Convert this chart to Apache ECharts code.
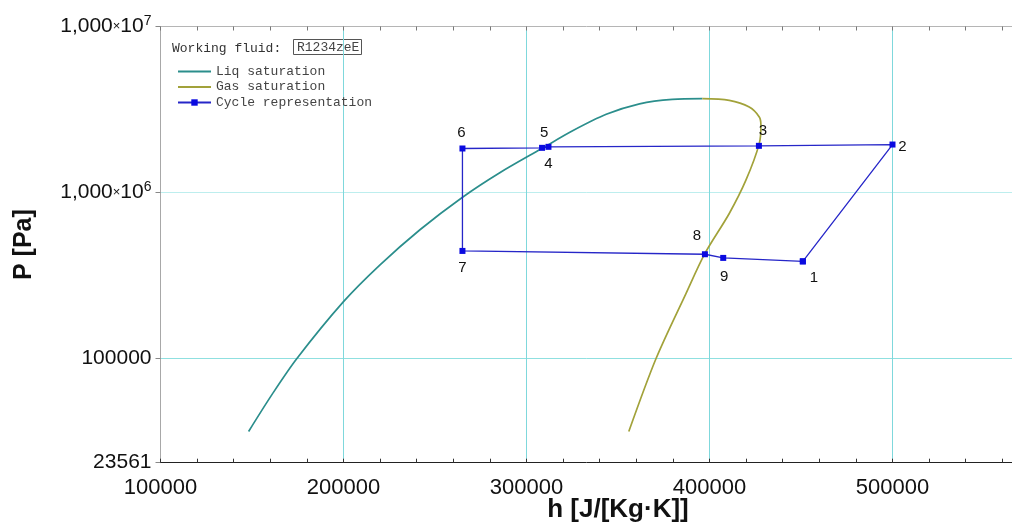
<!DOCTYPE html>
<html>
<head>
<meta charset="utf-8">
<title>P-h diagram</title>
<script src="https://cdn.jsdelivr.net/npm/echarts@6/dist/echarts.min.js"></script>
<style>
  html, body { margin: 0; padding: 0; background: #ffffff; overflow: hidden; }
  #chart { width: 1012px; height: 522px; }
</style>
</head>
<body>
<div id="chart"></div>
<script>
// Saturation dome of the working fluid (h in J/kg, P in Pa)
const liqH = [148150, 161070, 174540, 200000, 219970, 241780, 264680, 285400, 308300, 325200, 343580, 361750, 379720, 396080];
const liqP = [36350, 61000, 100000, 219900, 366400, 596600, 930500, 1315000, 1839000, 2353000, 2957000, 3420000, 3639000, 3673000];

const gasH = [396080, 410800, 421700, 427200, 428100, 427200, 419900, 410800, 397300, 387200, 370800, 355900];
const gasP = [3673000, 3589000, 3271000, 2849000, 2539000, 1970000, 1186000, 747500, 425600, 247000, 100000, 36350];

// Cycle states 1..9, closed back to state 1
const cycleNames = ['1', '2', '3', '4', '5', '6', '7', '8', '9', ''];
const cycleH = [451000, 500000, 427000, 312000, 308500, 265000, 265000, 397500, 407500, 451000];
const cycleP = [384700, 1945000, 1910000, 1884000, 1858000, 1841000, 444600, 424600, 403600, 384700];

// Axis ticks
const xMin = 100000, xMax = 600000, xStep = 100000, xMinorSplit = 5, xLastLabel = 500000;
const yTickValues = [23561, 100000, 1000000, 10000000];
const yTickText = ['23561', '100000', '1,000×10^6', '1,000×10^7'];

const fluidName = 'R1234zeE';

// Label offsets (px) of the state numbers relative to each marker
const stateLabelOffset = [[11, 16], [10, 2], [4, -15], [0, 17], [2, -15], [-1, -16], [0, 17], [-8, -18], [1, 19], [0, 0]];

const zip = (a, b) => a.map((v, i) => [v, b[i]]);

const sans = 'Liberation Sans';
const mono = 'Liberation Mono';

function yLabel(v) {
  const lv = Math.log10(v);
  let best = 0;
  for (let i = 1; i < yTickValues.length; i++) {
    if (Math.abs(lv - Math.log10(yTickValues[i])) < Math.abs(lv - Math.log10(yTickValues[best]))) best = i;
  }
  const t = yTickText[best];
  const k = t.indexOf('×');
  if (k < 0) return '{m|' + t + '}';
  return '{m|' + t.slice(0, k) + '}{x|×}{m|10}{s|' + t.slice(t.indexOf('^') + 1) + '}';
}

const chart = echarts.init(document.getElementById('chart'), null, { renderer: 'canvas' });

chart.setOption({
  animation: false,
  backgroundColor: '#ffffff',
  // 183 px per 100000 J/kg, 166 px per decade; the h axis runs on past the right edge
  grid: {
    left: 160.5, top: 26.5, width: 915, height: 436.2,
    containLabel: false,
    outerBoundsMode: 'none'
  },
  legend: {
    orient: 'vertical',
    left: 177,
    top: 65,
    itemWidth: 33,
    itemHeight: 8,
    itemGap: 2.5,
    padding: 0,
    textStyle: { fontFamily: mono, fontSize: 13, lineHeight: 13, color: '#444' },
    data: [
      { name: 'Liq saturation', itemStyle: { opacity: 0 } },
      { name: 'Gas saturation', itemStyle: { opacity: 0 } },
      { name: 'Cycle representation' }
    ]
  },
  graphic: [
    {
      type: 'text', left: 172, top: 42,
      style: { text: 'Working fluid:', font: '13px "Liberation Mono"', fill: '#333' }
    },
    {
      type: 'rect', shape: { x: 293.5, y: 39.5, width: 68, height: 15 },
      style: { fill: '#ffffff', stroke: '#555', lineWidth: 1 }
    },
    {
      type: 'text', left: 297, top: 41,
      style: { text: fluidName, font: '13px "Liberation Mono"', fill: '#444' }
    }
  ],
  xAxis: [
    {
      type: 'value',
      position: 'bottom',
      min: xMin, max: xMax, interval: xStep,
      name: 'h [J/[Kg·K]]',
      nameLocation: 'middle',
      nameGap: 34,
      nameMoveOverlap: false,
      nameTextStyle: { fontFamily: sans, fontSize: 26, fontWeight: 'bold', color: '#111' },
      axisLine: { show: true, lineStyle: { color: '#222', width: 1 } },
      axisTick: { show: true, inside: true, length: 4, lineStyle: { color: '#333' } },
      minorTick: { show: true, splitNumber: xMinorSplit, length: 4, lineStyle: { color: '#333' } },
      axisLabel: {
        margin: 14,
        fontFamily: sans, fontSize: 22, color: '#111',
        formatter: v => (v <= xLastLabel ? String(Math.round(v)) : '')
      },
      splitLine: { show: true, lineStyle: { width: 1, color: '#7fd8dc' } }
    },
    {
      type: 'value',
      position: 'top',
      min: xMin, max: xMax, interval: xStep,
      axisLine: { show: true, lineStyle: { color: '#b5b5b5', width: 1 } },
      axisTick: { show: true, inside: true, length: 4, lineStyle: { color: '#777' } },
      minorTick: { show: true, splitNumber: xMinorSplit, length: 4, lineStyle: { color: '#777' } },
      axisLabel: { show: false },
      splitLine: { show: false }
    }
  ],
  yAxis: {
    type: 'log',
    logBase: 10,
    min: yTickValues[0],
    max: yTickValues[yTickValues.length - 1],
    name: 'P [Pa]',
    nameLocation: 'middle',
    nameGap: 124,
    nameRotate: 90,
    nameMoveOverlap: false,
    nameTextStyle: { fontFamily: sans, fontSize: 25, fontWeight: 'bold', color: '#111' },
    axisLine: { show: true, lineStyle: { color: '#a8a8a8', width: 1 } },
    axisTick: { show: true, inside: false, length: 5, lineStyle: { color: '#888' } },
    axisLabel: {
      margin: 9,
      formatter: yLabel,
      rich: {
        m: { fontFamily: sans, fontSize: 21, color: '#111', lineHeight: 24 },
        x: { fontFamily: sans, fontSize: 13, color: '#111' },
        s: { fontFamily: sans, fontSize: 14, color: '#111', verticalAlign: 'top', lineHeight: 24 }
      }
    },
    splitLine: {
      show: true, showMinLine: false, showMaxLine: false,
      lineStyle: { width: 1, color: ['#8fe0e0', '#bdeeee'] }
    }
  },
  series: [
    {
      name: 'Liq saturation',
      type: 'line',
      xAxisIndex: 0,
      data: zip(liqH, liqP),
      symbol: 'none',
      smooth: 0.3,
      color: '#2b8e8c',
      lineStyle: { color: '#2b8e8c', width: 1.7 },
      z: 3
    },
    {
      name: 'Gas saturation',
      type: 'line',
      xAxisIndex: 0,
      data: zip(gasH, gasP),
      symbol: 'none',
      smooth: 0.3,
      color: '#a2a23a',
      lineStyle: { color: '#a2a23a', width: 1.7 },
      z: 3
    },
    {
      name: 'Cycle representation',
      type: 'line',
      xAxisIndex: 0,
      data: cycleH.map((h, i) => ({
        name: cycleNames[i],
        value: [h, cycleP[i]],
        label: { offset: stateLabelOffset[i] }
      })),
      symbol: 'rect',
      symbolSize: 6,
      showAllSymbol: true,
      color: '#0a0ae0',
      itemStyle: { color: '#0a0ae0' },
      lineStyle: { color: '#2626c8', width: 1.3 },
      label: {
        show: true,
        position: 'inside',
        formatter: p => p.name,
        fontFamily: sans, fontSize: 15, color: '#111'
      },
      z: 4
    }
  ]
});
</script>
</body>
</html>
